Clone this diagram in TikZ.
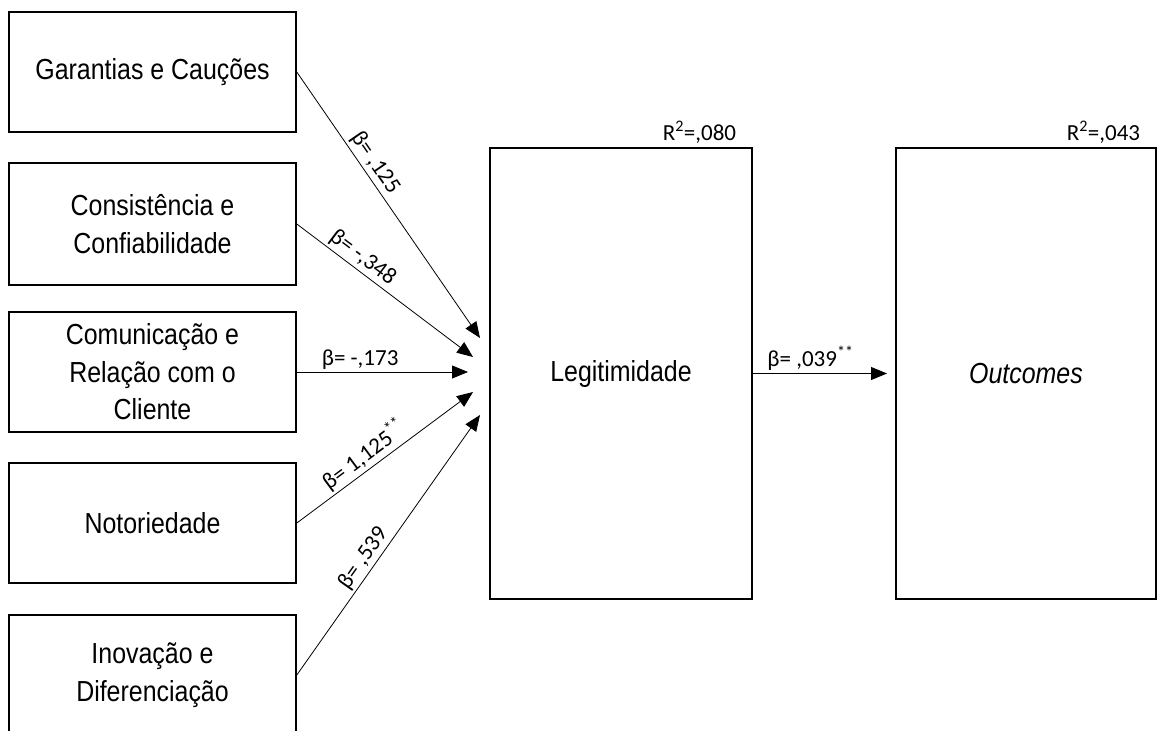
\documentclass[tikz,border=0pt]{standalone}
\usepackage{fontspec}
\usetikzlibrary{arrows.meta}
\newfontfamily\boxfont[FakeStretch=0.86]{Liberation Sans}
\newfontfamily\labfont{Carlito}
\begin{document}
\begin{tikzpicture}[x=1pt,y=-1pt,
  box/.style={draw, line width=1.6pt, minimum width=287pt, minimum height=120pt, inner sep=0pt, align=center,
    font=\boxfont\fontsize{29}{37.5}\selectfont},
  big/.style={draw, line width=1.6pt, minimum width=262pt, minimum height=451pt, inner sep=0pt, align=center,
    font=\boxfont\fontsize{29}{37.5}\selectfont},
  conn/.style={line width=0.8pt, -{Triangle[length=16pt,width=13pt]}},
  lab/.style={font=\labfont\fontsize{23}{27}\selectfont, inner sep=2.5pt}
]
\useasboundingbox (0,0) rectangle (1157,731);
\clip (0,0) rectangle (1157,731);

\node[box] (b1) at (152.5,72) {Garantias e Cauções};
\node[box, minimum height=122pt] (b2) at (152.5,224) {Consistência e\\Confiabilidade};
\node[box] (b3) at (152.5,372) {Comunicação e\\Relação com o\\Cliente};
\node[box] (b4) at (152.5,523) {Notoriedade};
\node[box] (b5) at (152.5,675) {Inovação e\\Diferenciação};

\node[big] (leg) at (621,373.5) {Legitimidade};
\node[big, minimum width=260pt] (out) at (1026,373.5) {\itshape Outcomes};

\node[lab, anchor=base east] (r1) at ([xshift=-14pt,yshift=7pt]leg.north east) {R\textsuperscript{2}=,080};
\node[lab, anchor=base east] (r2) at ([xshift=-14pt,yshift=7pt]out.north east) {R\textsuperscript{2}=,043};

\coordinate (t1) at (480,338);
\coordinate (t2) at (473,357);
\coordinate (t3) at (468,372);
\coordinate (t4) at (473,392);
\coordinate (t5) at (480,415);
\coordinate (t6) at (887,373.5);

\draw[conn] (b1.east) -- node[lab, sloped, above, pos=0.37] {β= ,125} (t1);
\draw[conn] (b2.east) -- node[lab, sloped, above, pos=0.33] {β= -,348} (t2);
\draw[conn] (b3.east) -- node[lab, sloped, above, pos=0.37] {β= -,173} (t3);
\draw[conn] (b4.east) -- node[lab, sloped, above, pos=0.43] {β= 1,125\textsuperscript{**}} (t4);
\draw[conn] (b5.east) -- node[lab, sloped, above, pos=0.42] {β= ,539} (t5);
\draw[conn] (leg.east) -- node[lab, above, pos=0.43] {β= ,039\textsuperscript{**}} (t6);
\end{tikzpicture}
\end{document}
